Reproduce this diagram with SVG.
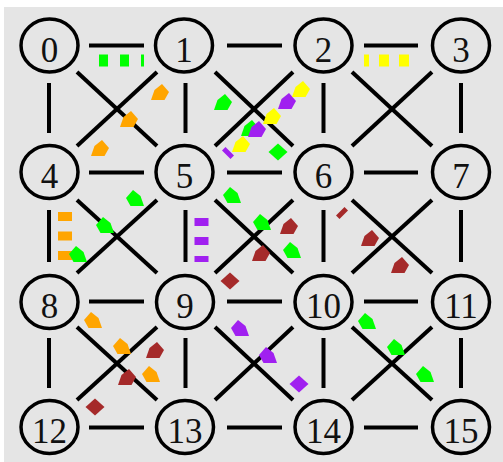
<svg xmlns="http://www.w3.org/2000/svg" width="503" height="462" viewBox="0 0 503 462">
<style>
.n ellipse{fill:none;stroke:#000;stroke-width:3.5}
.n text{font-family:"Liberation Serif","Times New Roman",serif;font-size:35px;text-anchor:middle;fill:#111}
.e line{stroke:#000;stroke-width:4}
.dh{stroke-width:12;fill:none}
.dv{stroke-width:14;fill:none}
</style>
<defs>
<polygon id="pl" points="-9,0 -2,-8 5.5,-2 9,8 -4.5,8"/>
<polygon id="pr" points="9,0 2,-8 -5.5,-2 -9,8 4.5,8"/>
<polygon id="dm" points="0,-8.5 9.5,0 0,8.5 -9.5,0"/>
</defs>
<rect x="4" y="7" width="499" height="455" fill="#e5e5e5"/>
<g id="connectors" class="e">
<line x1="89" y1="45.5" x2="144" y2="45.5"/>
<line x1="227" y1="45.5" x2="282" y2="45.5"/>
<line x1="364" y1="45.5" x2="418" y2="45.5"/>
<line x1="89" y1="172.5" x2="144" y2="172.5"/>
<line x1="227" y1="172.5" x2="282" y2="172.5"/>
<line x1="364" y1="172.5" x2="418" y2="172.5"/>
<line x1="89" y1="301.5" x2="144" y2="301.5"/>
<line x1="227" y1="301.5" x2="282" y2="301.5"/>
<line x1="364" y1="301.5" x2="418" y2="301.5"/>
<line x1="89" y1="427.5" x2="144" y2="427.5"/>
<line x1="227" y1="427.5" x2="282" y2="427.5"/>
<line x1="364" y1="427.5" x2="418" y2="427.5"/>
<line x1="49" y1="83" x2="49" y2="133"/>
<line x1="185.5" y1="83" x2="185.5" y2="133"/>
<line x1="323.5" y1="83" x2="323.5" y2="133"/>
<line x1="461" y1="83" x2="461" y2="133"/>
<line x1="49" y1="210" x2="49" y2="262"/>
<line x1="185.5" y1="210" x2="185.5" y2="262"/>
<line x1="323.5" y1="210" x2="323.5" y2="262"/>
<line x1="461" y1="210" x2="461" y2="262"/>
<line x1="49" y1="338" x2="49" y2="388"/>
<line x1="185.5" y1="338" x2="185.5" y2="388"/>
<line x1="323.5" y1="338" x2="323.5" y2="388"/>
<line x1="461" y1="338" x2="461" y2="388"/>
<line x1="77" y1="72" x2="157" y2="146"/>
<line x1="157" y1="72" x2="77" y2="146"/>
<line x1="215" y1="72" x2="293" y2="146"/>
<line x1="293" y1="72" x2="215" y2="146"/>
<line x1="352" y1="72" x2="432" y2="146"/>
<line x1="432" y1="72" x2="352" y2="146"/>
<line x1="77" y1="200" x2="157" y2="273"/>
<line x1="157" y1="200" x2="77" y2="273"/>
<line x1="215" y1="200" x2="293" y2="273"/>
<line x1="293" y1="200" x2="215" y2="273"/>
<line x1="352" y1="200" x2="432" y2="273"/>
<line x1="432" y1="200" x2="352" y2="273"/>
<line x1="77" y1="327" x2="157" y2="400"/>
<line x1="157" y1="327" x2="77" y2="400"/>
<line x1="215" y1="327" x2="293" y2="400"/>
<line x1="293" y1="327" x2="215" y2="400"/>
<line x1="352" y1="327" x2="432" y2="400"/>
<line x1="432" y1="327" x2="352" y2="400"/>
</g>
<g id="flows">
<line class="dh" x1="99" y1="60.5" x2="144" y2="60.5" stroke="#00ff00" stroke-dasharray="9 12"/>
<line class="dh" x1="409" y1="60.5" x2="364" y2="60.5" stroke="#ffff00" stroke-dasharray="10 10"/>
<line class="dv" x1="65" y1="212" x2="65" y2="260" stroke="#ffa500" stroke-dasharray="9 10.5"/>
<line class="dv" x1="201.5" y1="218" x2="201.5" y2="262" stroke="#a020f0" stroke-dasharray="8 11"/>
<g fill="#ffa500">
<use href="#pr" x="160" y="92"/><use href="#pr" x="129" y="119"/><use href="#pr" x="100" y="148"/>
</g>
<g fill="#00ff00">
<use href="#pr" x="223" y="102"/><use href="#pr" x="250" y="128"/><use href="#dm" x="278" y="152"/>
</g>
<g fill="#a020f0">
<use href="#pr" x="287" y="101"/><use href="#pr" x="257" y="129"/>
<polygon points="225.5,147 234,155.5 230.5,159 222,150.5"/>
</g>
<g fill="#ffff00">
<use href="#pr" x="301" y="89"/><use href="#pr" x="272" y="116"/><use href="#pr" x="241" y="144"/>
</g>
<g fill="#00ff00">
<use href="#pl" x="135" y="198"/><use href="#pl" x="105" y="225"/><use href="#pl" x="78" y="254"/>
</g>
<g fill="#00ff00">
<use href="#pl" x="232" y="195"/><use href="#pl" x="262" y="222"/><use href="#pl" x="292" y="250"/>
</g>
<g fill="#a52a2a">
<use href="#pr" x="289" y="226"/><use href="#pr" x="261" y="253"/><use href="#dm" x="230" y="281"/>
<polygon points="344.5,207 348,210.5 339.5,219 336,215.5"/>
<use href="#pr" x="370" y="238"/><use href="#pr" x="400" y="265"/>
</g>
<g fill="#ffa500">
<use href="#pl" x="93" y="320"/><use href="#pl" x="122" y="346"/><use href="#pl" x="151" y="374"/>
</g>
<g fill="#a52a2a">
<use href="#pr" x="155" y="350"/><use href="#pr" x="127" y="377"/><use href="#dm" x="95" y="407"/>
</g>
<g fill="#a020f0">
<use href="#pl" x="240" y="328"/><use href="#pl" x="268" y="355"/><use href="#dm" x="299" y="384"/>
</g>
<g fill="#00ff00">
<use href="#pl" x="367" y="321"/><use href="#pl" x="396" y="347"/><use href="#pl" x="425" y="374"/>
</g>
</g>
<g id="n0" class="n"><ellipse cx="49.5" cy="45.5" rx="28.5" ry="26.5"/><text x="49.5" y="61.5">0</text></g>
<g id="n1" class="n"><ellipse cx="184" cy="45.5" rx="28.5" ry="26.5"/><text x="184" y="61.5">1</text></g>
<g id="n2" class="n"><ellipse cx="323.5" cy="45.5" rx="28.5" ry="26.5"/><text x="323.5" y="61.5">2</text></g>
<g id="n3" class="n"><ellipse cx="461" cy="45.5" rx="28.5" ry="26.5"/><text x="461" y="61.5">3</text></g>
<g id="n4" class="n"><ellipse cx="49.5" cy="172" rx="28.5" ry="26.5"/><text x="49.5" y="188">4</text></g>
<g id="n5" class="n"><ellipse cx="184.5" cy="172" rx="28.5" ry="26.5"/><text x="184.5" y="188">5</text></g>
<g id="n6" class="n"><ellipse cx="323.5" cy="172" rx="28.5" ry="26.5"/><text x="323.5" y="188">6</text></g>
<g id="n7" class="n"><ellipse cx="461" cy="172" rx="28.5" ry="26.5"/><text x="461" y="188">7</text></g>
<g id="n8" class="n"><ellipse cx="49.5" cy="302" rx="28.5" ry="26.5"/><text x="49.5" y="318">8</text></g>
<g id="n9" class="n"><ellipse cx="185" cy="302" rx="28.5" ry="26.5"/><text x="185" y="318">9</text></g>
<g id="n10" class="n"><ellipse cx="323.5" cy="302" rx="28.5" ry="26.5"/><text x="323.5" y="318">10</text></g>
<g id="n11" class="n"><ellipse cx="461" cy="302" rx="28.5" ry="26.5"/><text x="461" y="318">11</text></g>
<g id="n12" class="n"><ellipse cx="49.5" cy="427" rx="28.5" ry="26.5"/><text x="49.5" y="443">12</text></g>
<g id="n13" class="n"><ellipse cx="185" cy="427" rx="28.5" ry="26.5"/><text x="185" y="443">13</text></g>
<g id="n14" class="n"><ellipse cx="323.5" cy="427" rx="28.5" ry="26.5"/><text x="323.5" y="443">14</text></g>
<g id="n15" class="n"><ellipse cx="461" cy="427" rx="28.5" ry="26.5"/><text x="461" y="443">15</text></g>
</svg>
